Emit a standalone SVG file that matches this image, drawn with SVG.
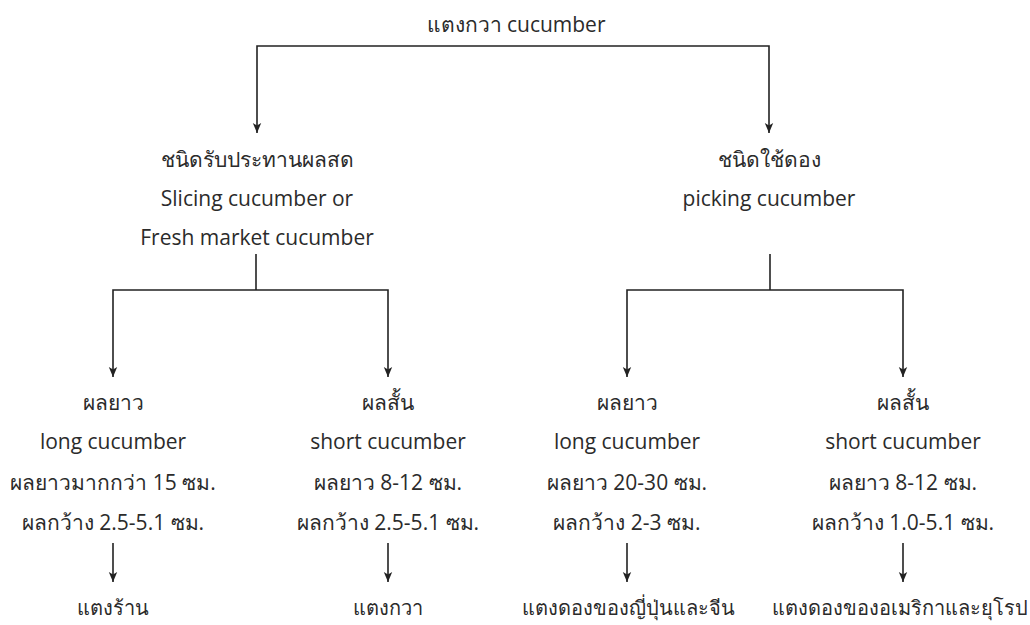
<svg xmlns="http://www.w3.org/2000/svg" width="1030" height="625" viewBox="0 0 1030 625">
<style>
text{font-family:"Open Sans","Noto Sans",sans-serif;font-size:21px;fill:#2b2b2b;text-anchor:middle}
.leaf{font-size:20px}
.c{fill:none;stroke:#222;stroke-width:1.6}
</style>
<defs>
<marker id="ah" markerWidth="12" markerHeight="12" refX="10" refY="5" orient="auto-start-reverse" markerUnits="userSpaceOnUse" viewBox="0 0 12 10">
<path d="M0,0.8 L10,5 L0,9.2 L2.5,5 Z" fill="#222"/>
</marker>
</defs>
<rect width="1030" height="625" fill="#fff"/>
<g id="connectors">
<path class="c" d="M257,133 V46 H769 V133" marker-start="url(#ah)" marker-end="url(#ah)"/>
<path class="c" d="M256,254 V290"/>
<path class="c" d="M113,377 V290 H388 V377" marker-start="url(#ah)" marker-end="url(#ah)"/>
<path class="c" d="M770,254 V290"/>
<path class="c" d="M627,377 V290 H903 V377" marker-start="url(#ah)" marker-end="url(#ah)"/>
<path class="c" d="M113,543 V582" marker-end="url(#ah)"/>
<path class="c" d="M388,543 V582" marker-end="url(#ah)"/>
<path class="c" d="M627,543 V582" marker-end="url(#ah)"/>
<path class="c" d="M903,543 V582" marker-end="url(#ah)"/>
</g>
<g id="root"><text x="516" y="32">แตงกวา cucumber</text></g>
<g id="slicing">
<text x="257" y="167">ชนิดรับประทานผลสด</text>
<text x="257" y="206">Slicing cucumber or</text>
<text x="257" y="245">Fresh market cucumber</text>
</g>
<g id="pickling">
<text x="769" y="167">ชนิดใช้ดอง</text>
<text x="769" y="206">picking cucumber</text>
</g>
<g id="slice-long">
<text x="113" y="410">ผลยาว</text>
<text x="113" y="449">long cucumber</text>
<text x="113" y="490">ผลยาวมากกว่า 15 ซม.</text>
<text x="113" y="530">ผลกว้าง 2.5-5.1 ซม.</text>
</g>
<g id="slice-short">
<text x="388" y="410">ผลสั้น</text>
<text x="388" y="449">short cucumber</text>
<text x="388" y="490">ผลยาว 8-12 ซม.</text>
<text x="388" y="530">ผลกว้าง 2.5-5.1 ซม.</text>
</g>
<g id="pickle-long">
<text x="627" y="410">ผลยาว</text>
<text x="627" y="449">long cucumber</text>
<text x="627" y="490">ผลยาว 20-30 ซม.</text>
<text x="627" y="530">ผลกว้าง 2-3 ซม.</text>
</g>
<g id="pickle-short">
<text x="903" y="410">ผลสั้น</text>
<text x="903" y="449">short cucumber</text>
<text x="903" y="490">ผลยาว 8-12 ซม.</text>
<text x="903" y="530">ผลกว้าง 1.0-5.1 ซม.</text>
</g>
<g id="leaf1"><text class="leaf" x="113" y="615">แตงร้าน</text></g>
<g id="leaf2"><text class="leaf" x="388" y="615">แตงกวา</text></g>
<g id="leaf3"><text class="leaf" x="628" y="615">แตงดองของญี่ปุ่นและจีน</text></g>
<g id="leaf4"><text class="leaf" x="900" y="615">แตงดองของอเมริกาและยุโรป</text></g>
</svg>
